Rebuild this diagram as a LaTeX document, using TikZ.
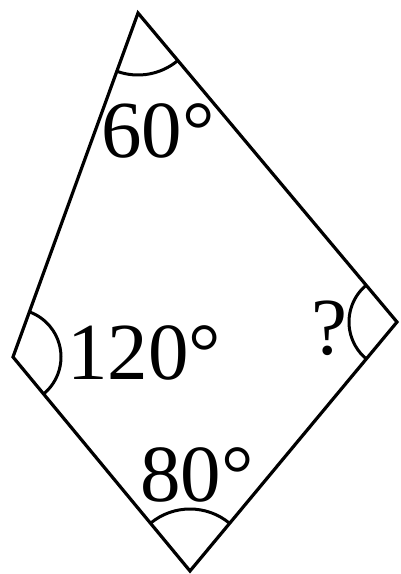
\documentclass[tikz,border=0pt]{standalone}
\usepackage{fontspec}
\setmainfont{Liberation Serif}
\usetikzlibrary{angles}
\begin{document}
\begin{tikzpicture}[x=1pt,y=1pt,
  edge/.style={line width=3.2pt,line join=miter},
  arcmark/.style={draw,line width=3pt},
  lbl/.style={anchor=base west,inner sep=0pt,font=\fontsize{81}{81}\selectfont}]
\useasboundingbox (0,0) rectangle (400,574);
\coordinate (T) at (138,561);
\coordinate (L) at (13,217);
\coordinate (R) at (397,252);
\coordinate (B) at (190,3);
\draw[edge] (T) -- (R) -- (B) -- (L) -- cycle;
\pic[arcmark,angle radius=62pt] {angle=L--T--R};
\pic[arcmark,angle radius=48pt] {angle=B--L--T};
\pic[arcmark,angle radius=48pt] {angle=T--R--B};
\pic[arcmark,angle radius=62pt] {angle=R--B--L};
\node[lbl] (a60) at (101,416) {60°};
\node[lbl] (a120) at (67,194) {120°};
\node[lbl] (a80) at (140,72) {80°};
\node[lbl] (aq) at (311,219) {?};
\end{tikzpicture}
\end{document}
